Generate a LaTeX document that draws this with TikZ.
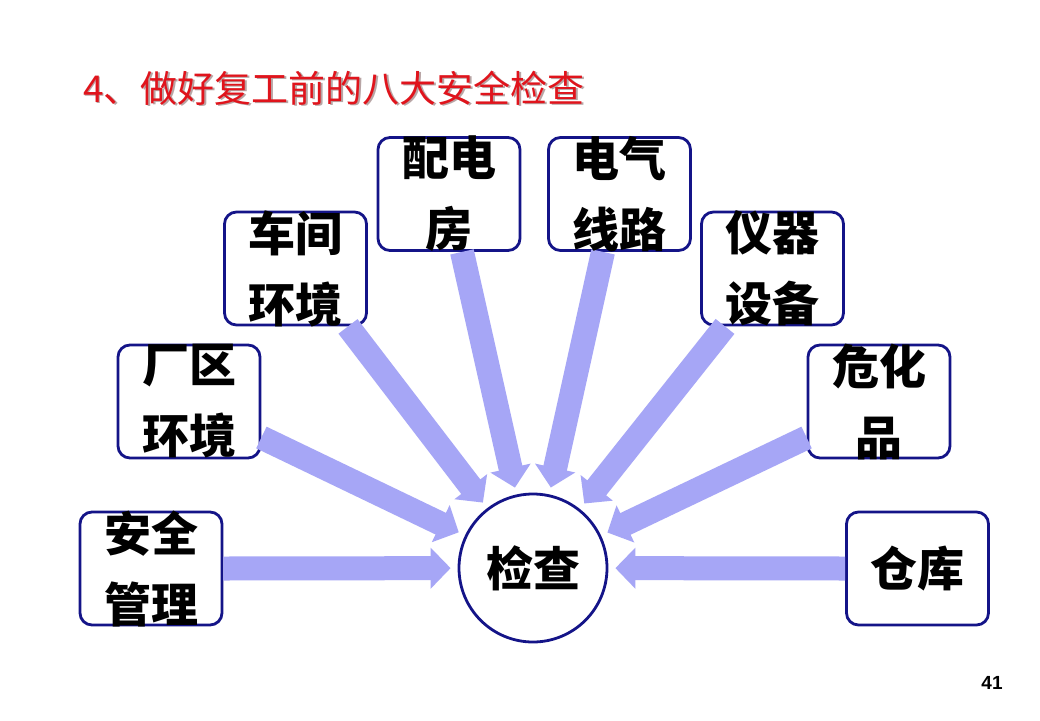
\documentclass[tikz,border=0pt]{standalone}
\usepackage{fontspec}
\setmainfont{Noto Sans CJK SC}
\newfontfamily\numfont{Liberation Sans}
\usetikzlibrary{arrows.meta}
\definecolor{boxline}{HTML}{141488}
\definecolor{arrowfill}{HTML}{A6A6F6}
\definecolor{titlered}{HTML}{E0141C}
\definecolor{titleshadow}{HTML}{8A6A6A}
\begin{document}
\begin{tikzpicture}[x=1pt,y=-1pt,
  box/.style={draw=boxline, line width=2.8pt, rounded corners=12pt, minimum width=142pt, minimum height=113pt, inner sep=0pt, fill=white},
  hub/.style={circle, draw=boxline, line width=2.8pt, minimum size=148pt, inner sep=0pt, fill=white, font=\fontsize{47}{56}\selectfont\bfseries},
  lbl/.style={font=\fontsize{47}{71}\selectfont\bfseries, align=center, inner sep=0pt},
  flow/.style={draw=arrowfill, line width=24pt, -{Triangle[width=40pt,length=20pt]}, shorten >=7pt},
  ttl/.style={font=\fontsize{37}{44}\selectfont, anchor=west, inner sep=0pt}
]
\useasboundingbox (0,0) rectangle (1040,720);
\fill[white] (0,0) rectangle (1040,720);

% title
\node[ttl, text=titleshadow, opacity=0.6] (titleshadow) at (84.5,89.5) {4、做好复工前的八大安全检查};
\node[ttl, text=titlered] (title) at (83,88) {4、做好复工前的八大安全检查};

% boxes
\node[box] (b1) at (151,568.5) {};
\node[box] (b2) at (189,401.5) {};
\node[box] (b3) at (295.5,268.5) {};
\node[box] (b4) at (449,194) {};
\node[box] (b5) at (619.5,194) {};
\node[box] (b6) at (772.5,268.5) {};
\node[box] (b7) at (879,401.5) {};
\node[box] (b8) at (917.5,568.5) {};
\node[hub] (c) at (533,568) {检查};

% arrows
\draw[flow] (b1.east) -- (c);
\draw[flow] ([yshift=-36pt]b2.east) -- (c);
\draw[flow] ([xshift=52.5pt]b3.south) -- (c);
\draw[flow] ([xshift=13pt]b4.south) -- (c);
\draw[flow] ([xshift=-16.5pt]b5.south) -- (c);
\draw[flow] ([xshift=-47.5pt]b6.south) -- (c);
\draw[flow] ([yshift=-36pt]b7.west) -- (c);
\draw[flow] (b8.west) -- (c);

% labels
\node[lbl] (t1) at (b1) {安全\\管理};
\node[lbl] (t2) at (b2) {厂区\\环境};
\node[lbl] (t3) at (b3) {车间\\环境};
\node[lbl] (t4) at (b4) {配电\\房};
\node[lbl] (t5) at (b5) {电气\\线路};
\node[lbl] (t6) at (b6) {仪器\\设备};
\node[lbl] (t7) at (b7) {危化\\品};
\node[lbl] (t8) at (b8) {仓库};

% page number
\node[font=\numfont\fontsize{19}{22}\selectfont\bfseries, inner sep=0pt] (pg) at (992,683) {41};
\end{tikzpicture}
\end{document}
